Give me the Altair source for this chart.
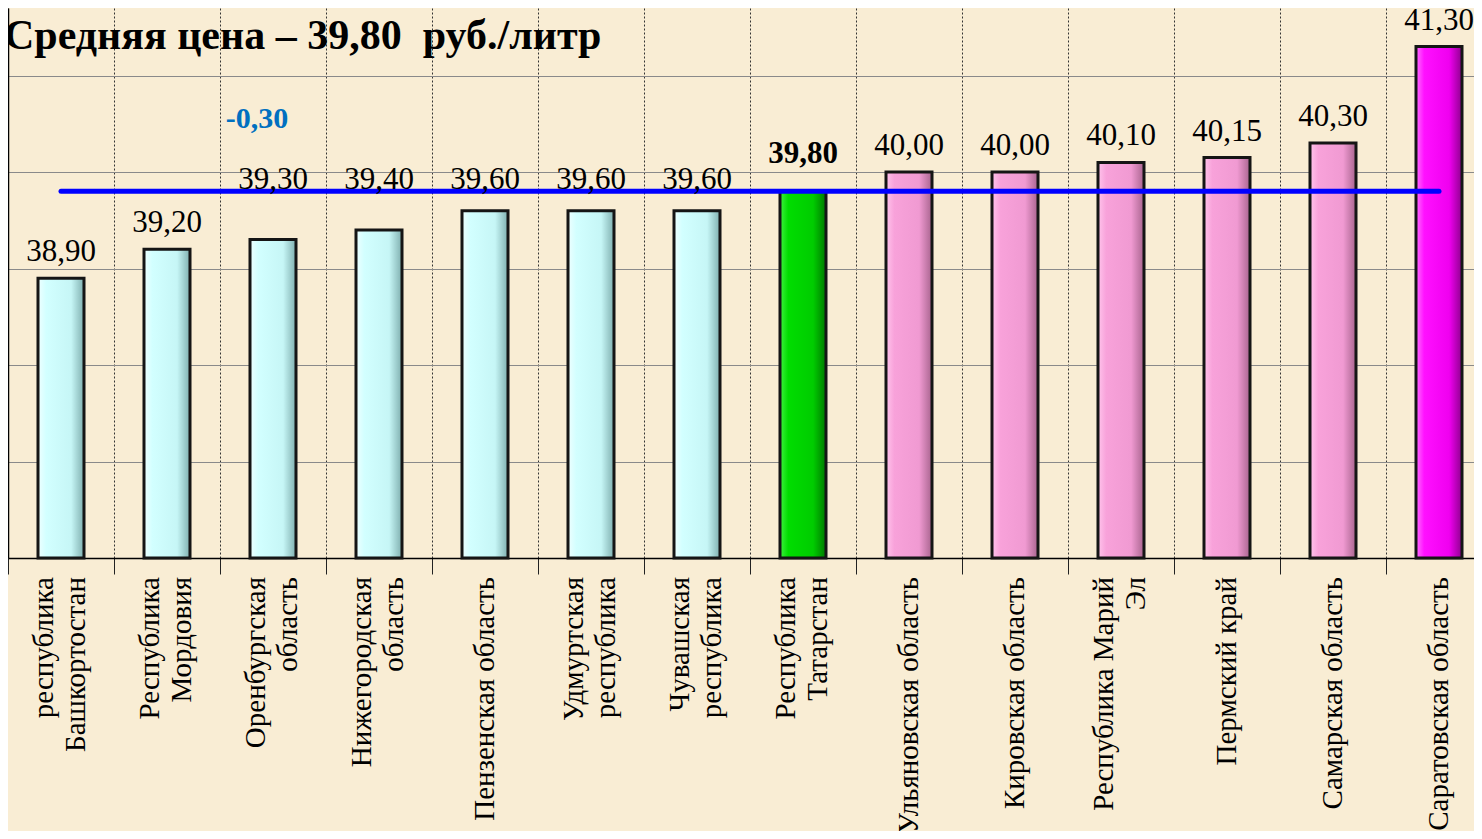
import altair as alt
import pandas as pd

# ---- data ----
regions = [
    "республика\nБашкортостан",
    "Республика\nМордовия",
    "Оренбургская\nобласть",
    "Нижегородская\nобласть",
    "Пензенская область",
    "Удмуртская\nреспублика",
    "Чувашская\nреспублика",
    "Республика\nТатарстан",
    "Ульяновская область",
    "Кировская область",
    "Республика Марий\nЭл",
    "Пермский край",
    "Самарская область",
    "Саратовская область",
]
prices = [38.90, 39.20, 39.30, 39.40, 39.60, 39.60, 39.60, 39.80,
          40.00, 40.00, 40.10, 40.15, 40.30, 41.30]
groups = ["ниже"] * 7 + ["Татарстан"] + ["выше"] * 5 + ["максимум"]
average_price = 39.80
title_text = "Средняя цена – 39,80\u00a0 руб./литр"
diff_text = "-0,30"
diff_region = regions[2]

# ---- style ----
FONT = "Liberation Serif"
Y_MIN, Y_MAX = 36, 41.7
PLOT_H = 550
lifted = regions[2:7]          # labels drawn sitting on the average line
home = regions[7]

df = pd.DataFrame({"region": regions, "price": prices, "group": groups})
df["label"] = df["price"].map(lambda v: f"{v:.2f}".replace(".", ","))
df["avg"] = average_price

def grad(c0, c1, c2, c3):
    return alt.Gradient(
        gradient="linear", x1=0, x2=1, y1=0, y2=0,
        stops=[alt.GradientStop(color=c0, offset=0),
               alt.GradientStop(color=c1, offset=0.18),
               alt.GradientStop(color=c2, offset=0.72),
               alt.GradientStop(color=c3, offset=1)])

fills = {
    "ниже": grad("#EEFFFF", "#D2FFFF", "#C6F6F6", "#7FAFAF"),
    "Татарстан": grad("#40F040", "#00DD00", "#00CC00", "#007A00"),
    "выше": grad("#FFC4EC", "#F8A2DA", "#F09AD2", "#A8648E"),
    "максимум": grad("#FF70FF", "#FF10FF", "#F000F0", "#8E008E"),
}

x_scale = alt.Scale(paddingInner=0, paddingOuter=0, range=[0, 1484])
x_enc = alt.X(
    "region:N", sort=regions, title=None, scale=x_scale,
    axis=alt.Axis(
        tickBand="extent", grid=True, gridDash=[2, 2], gridColor="#333333",
        gridWidth=1, ticks=True, tickSize=16, tickColor="#222222", tickWidth=1,
        domainColor="#000000", domainWidth=1.5, labels=False,
    ),
)
y_scale = alt.Scale(domain=[Y_MIN, Y_MAX], zero=False, nice=False)
y_axis = alt.Axis(
    title=None, labels=False, values=[37, 38, 39, 40, 41], grid=True,
    gridColor="#8A8A8A", gridWidth=1, domainColor="#000000", domainWidth=1.5,
    ticks=True, tickSize=4, tickColor="#000000",
)

base = alt.Chart(df)

bars = []
for g, f in fills.items():
    bars.append(
        base.transform_filter(alt.datum.group == g)
        .mark_bar(size=46, color=f, stroke="#151515", strokeWidth=3)
        .encode(x=x_enc,
                y=alt.Y("price:Q", scale=y_scale, axis=y_axis),
                y2=alt.datum(Y_MIN))
    )

avg_line = base.mark_line(color="#0000FF", strokeWidth=5, strokeCap="round").encode(
    x=alt.X("region:N", sort=regions), y=alt.Y("avg:Q", scale=y_scale)
)

normal_labels = base.transform_filter(
    {"not": alt.FieldOneOfPredicate(field="region", oneOf=lifted + [home])}
).mark_text(font=FONT, fontSize=31, color="#000000", baseline="alphabetic", dy=-17).encode(
    x=alt.X("region:N", sort=regions), y=alt.Y("price:Q", scale=y_scale), text="label:N"
)

lifted_labels = base.transform_filter(
    alt.FieldOneOfPredicate(field="region", oneOf=lifted)
).mark_text(font=FONT, fontSize=31, color="#000000", baseline="alphabetic", dy=-2).encode(
    x=alt.X("region:N", sort=regions), y=alt.Y("avg:Q", scale=y_scale), text="label:N"
)

home_label = base.transform_filter(alt.datum.region == home).mark_text(
    font=FONT, fontSize=31, fontWeight="bold", color="#000000", baseline="alphabetic", dy=-28
).encode(x=alt.X("region:N", sort=regions), y=alt.Y("price:Q", scale=y_scale), text="label:N")

diff_label = base.transform_filter(alt.datum.region == diff_region).mark_text(
    font=FONT, fontSize=30, fontWeight="bold", color="#0070C0", baseline="alphabetic", dx=-16, dy=-63
).encode(x=alt.X("region:N", sort=regions), y=alt.Y("avg:Q", scale=y_scale), text=alt.value(diff_text))

# category labels (rotated, below the axis)
cat_style = dict(font=FONT, fontSize=29, color="#000000", angle=270, align="right",
                 lineBreak="\n", lineHeight=32)
cat_single = base.transform_filter("indexof(datum.region, '\\n') < 0").mark_text(
    baseline="middle", **cat_style
).encode(x=alt.X("region:N", sort=regions), y=alt.value(PLOT_H + 19), text="region:N")
cat_double = base.transform_filter("indexof(datum.region, '\\n') >= 0").mark_text(
    baseline="line-bottom", **cat_style
).encode(x=alt.X("region:N", sort=regions), y=alt.value(PLOT_H + 19), text="region:N")

title = alt.Chart(pd.DataFrame({"t": [title_text]})).mark_text(
    font=FONT, fontSize=42, fontWeight="bold", color="#000000", align="left", baseline="alphabetic"
).encode(x=alt.value(-4), y=alt.value(41), text="t:N")

chart = alt.layer(*bars, avg_line, normal_labels, lifted_labels, home_label, diff_label,
                  cat_single, cat_double, title).properties(
    width=1466, height=PLOT_H,
    padding={"left": 0, "top": 0, "right": 0, "bottom": 273},
    autosize=alt.AutoSizeParams(type="none"),
    background="#F9EDD4",
).configure_view(strokeWidth=0)

chart.save("out.html", embed_options={"renderer": "svg", "actions": False})
